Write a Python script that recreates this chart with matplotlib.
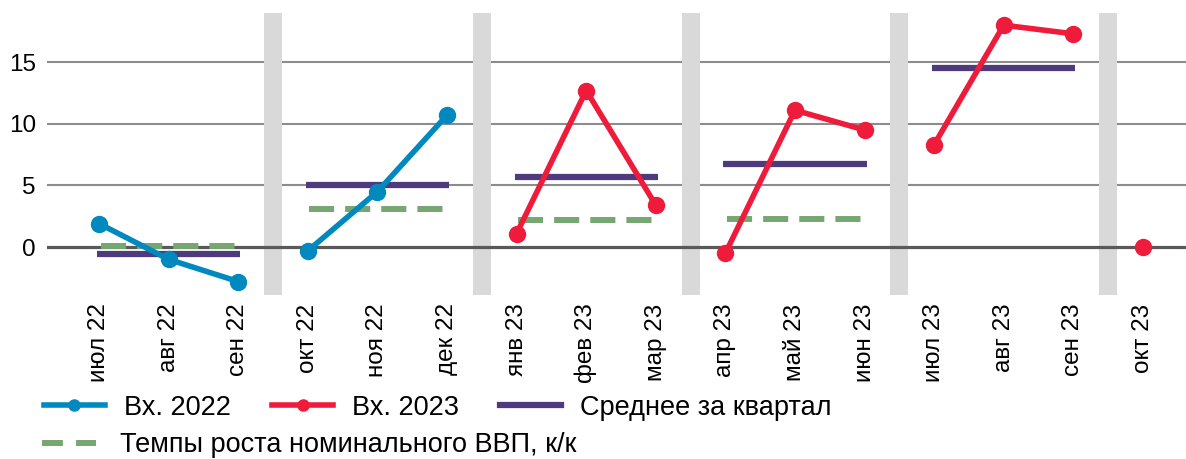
import numpy as np
import matplotlib
matplotlib.use("Agg")
import matplotlib.pyplot as plt

plt.rcParams['font.family'] = ['Liberation Sans', 'DejaVu Sans']

months = ['июл 22', 'авг 22', 'сен 22', 'окт 22', 'ноя 22', 'дек 22',
          'янв 23', 'фев 23', 'мар 23', 'апр 23', 'май 23', 'июн 23',
          'июл 23', 'авг 23', 'сен 23', 'окт 23']
vx2022 = [1.9, -1.0, -2.8, -0.3, 4.5, 10.7]
vx2023 = [1.1, 12.7, 3.4, -0.5, 11.1, 9.5, 8.3, 18.0, 17.3, 0.0]
q_avg = [-0.6, 5.0, 5.7, 6.7, 14.5]
gdp_qq = [0.1, 3.1, 2.2, 2.3]

blue = '#0089bf'
red = '#ee1b3b'
purple = '#4e3a7d'
green = '#76a672'

fig = plt.figure(figsize=(11.86, 4.59), dpi=100)
ax = fig.add_axes([0.0396, 0.357, 0.9604, 0.615])

x = np.arange(len(months))
# gridlines, quarter separators, zero line
for yv in [5, 10, 15]:
    ax.axhline(yv, color='#8c8c8c', lw=1.5, zorder=0)
for q in range(5):
    c = q * 3 + 2.5
    ax.axvspan(c - 0.13, c + 0.13, color='#d9d9d9', lw=0, zorder=1)
ax.axhline(0, color='#595959', lw=2.3, zorder=2)

# monthly series, connected within quarters only
all_vals = vx2022 + vx2023
series_color = [blue] * len(vx2022) + [red] * len(vx2023)
for start in range(0, len(months), 3):
    xs = x[start:start + 3]
    ys = all_vals[start:start + 3]
    ax.plot(xs, ys, color=series_color[start], lw=4, marker='o', ms=11.5,
            solid_capstyle='round', zorder=5)

# quarterly averages
for q, v in enumerate(q_avg):
    ax.plot([q * 3 - 0.03, q * 3 + 2.03], [v, v], color=purple, lw=4.5,
            solid_capstyle='butt', zorder=4)
for q, v in enumerate(gdp_qq):
    ax.plot([q * 3 + 0.02, q * 3 + 1.95], [v, v], color=green, lw=4.3,
            linestyle=(0, (4.2, 1.85)), dash_capstyle='butt', zorder=3)

ax.set_xlim(-0.75, 15.62)
ax.set_ylim(-3.9, 19.0)
ax.set_xticks(x)
ax.set_xticklabels(months, rotation=90, fontsize=17.5)
ax.set_yticks([0, 5, 10, 15])
ax.tick_params(axis='both', length=0, labelsize=17.5)
ax.tick_params(axis='y', pad=8)
ax.tick_params(axis='x', pad=6)
for s in ax.spines.values():
    s.set_visible(False)

h1, = ax.plot([], [], color=blue, lw=4, marker='o', ms=8)
h2, = ax.plot([], [], color=red, lw=4, marker='o', ms=8)
h3, = ax.plot([], [], color=purple, lw=4.5)
h4, = ax.plot([], [], color=green, lw=4.3, linestyle=(0, (3.5, 2.2)))
fig.legend([h1, h2, h3], ['Вх. 2022', 'Вх. 2023', 'Среднее за квартал'],
           ncol=3, loc='center left', bbox_to_anchor=(0.037, 0.112), frameon=False,
           fontsize=19.5, handlelength=2.25, handletextpad=0.7, columnspacing=1.53,
           borderpad=0, borderaxespad=0, numpoints=1)
fig.legend([h4], ['Темпы роста номинального ВВП, к/к'],
           loc='center left', bbox_to_anchor=(0.035, 0.03), frameon=False,
           fontsize=19.5, handlelength=2.0, handletextpad=0.9,
           borderpad=0, borderaxespad=0)

fig.savefig('out.png', dpi=100)
